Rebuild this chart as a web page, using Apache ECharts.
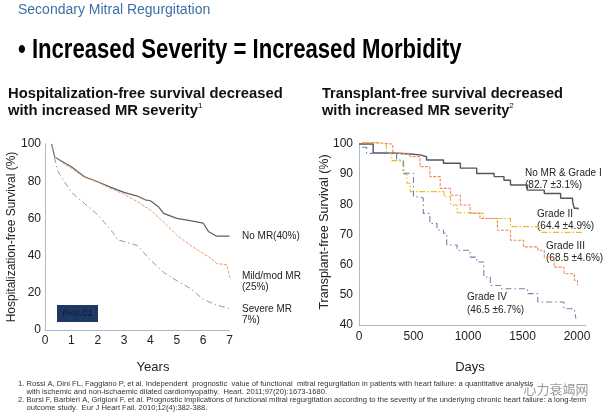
<!DOCTYPE html>
<html><head><meta charset="utf-8">
<script src="https://cdn.jsdelivr.net/npm/echarts@6/dist/echarts.min.js"></script>
<style>html,body{margin:0;padding:0;background:#fff}#c{width:613px;height:413px}</style>
</head><body><div id="c"></div>
<script>
// ---- Left chart: Hospitalization-free survival (years) ----
const leftYTicks = [0, 20, 40, 60, 80, 100];
const noMrT   = [0.25,0.37,0.6,1,1.5,2,2.5,3,3.5,3.8,4,4.3,4.5,5,5.5,6,6.2,6.5,7];
const noMrS   = [100,93,91,87.8,82.4,79.7,76.7,74,72,70,69.5,66.3,62.7,60,58.8,57.5,53,50.5,50.5];
const mildT   = [0.25,0.37,0.6,1,1.5,2,2.5,3,3.5,4,4.5,5,5.5,6,6.3,6.5,6.9,7,7.2];
const mildS   = [100,93,90.5,87,82,79.5,76,73,69,64.5,58,51,45.7,41.2,38.5,35.8,35,28.7,24.2];
const severeT = [0.25,0.37,0.5,0.7,1,1.33,1.5,2,2.3,2.6,2.75,3,3.5,4,4.5,5,5.5,6,6.5,7];
const severeS = [100,92,85,80.6,74,70,68,62,57,52,48.5,47.5,45.5,37.6,31,26.5,22.4,16.5,13.4,11.6];
const leftLabels = ["No MR(40%)", "Mild/mod MR\n(25%)", "Severe MR\n7%)"];

// ---- Right chart: Transplant-free survival (days) ----
const g1Days = [0,50,130,310,470,560,620,775,930,1080,1240,1330,1390,1545,1700,1850,1960,1975,2010];
const g1Surv = [100,100,97,96.7,96.4,95.8,94.7,93.6,92,90.2,89.2,88,86.4,84.7,83.6,82,80.9,78.7,78.3];
const g2Days = [30,160,250,300,360,410,440,470,650,780,840,900,1080,1140,1360,1390,1640,1670,2060];
const g2Surv = [100.4,100,97,94.5,94,90,87,84.2,84.2,82.5,79.8,77.2,77,75.3,75.3,72.6,72,70.7,70.7];
const g3Days = [30,160,310,470,560,650,745,840,930,1020,1110,1270,1390,1510,1640,1700,1790,1880,1975,2005];
const g3Surv = [100.4,100,96.9,95.8,92.5,89.2,85.3,83,79.8,77,75.3,71.4,68.1,65.9,64.8,62.5,59.2,57,54.8,53.1];
const g4Days = [30,70,280,345,405,470,500,560,590,650,715,775,805,900,1020,1080,1145,1205,1300,1515,1545,1640,1850,1880,1975,1990];
const g4Surv = [98.9,96.9,96.9,94.7,90.3,90.3,82.5,82,77,73.7,71.5,70.4,66.5,64.8,62.5,60.9,55.9,53.1,52,52,50.4,47.6,47.6,45.4,44.9,42.1];
const rightLabels = ["No MR & Grade I\n(82.7 ±3.1%)", "Grade II\n(64.4 ±4.9%)", "Grade III\n(68.5 ±4.6%)", "Grade IV\n(46.5 ±6.7%)"];

const zip = (a, b) => a.map((v, i) => [v, b[i]]);
const axisCol = '#a9bad2';
const tickFont = {fontFamily: 'Liberation Sans, Arial, sans-serif', fontSize: 12, color: '#222'};
const txt = (x, y, text, o) => ({type: 'text', x, y, style: Object.assign({text, fill: '#222', font: '10px "Liberation Sans", Arial, sans-serif'}, o || {})});

const chart = echarts.init(document.getElementById('c'), null, {renderer: 'canvas'});
chart.setOption({
  animation: false,
  backgroundColor: '#fff',
  grid: [
    {left: 45, top: 144, width: 184.5, height: 186},
    {left: 359, top: 144, width: 226.7, height: 181}
  ],
  xAxis: [
    {gridIndex: 0, type: 'value', min: 0, max: 7, interval: 1,
     axisLine: {show: true, lineStyle: {color: axisCol}}, axisTick: {show: false}, splitLine: {show: false},
     axisLabel: Object.assign({margin: 5}, tickFont)},
    {gridIndex: 1, type: 'value', min: 0, max: 2080, interval: 500,
     axisLine: {show: true, lineStyle: {color: axisCol}}, axisTick: {show: false}, splitLine: {show: false},
     axisLabel: Object.assign({margin: 6, showMaxLabel: false, formatter: v => (v % 500 === 0 ? String(v) : '')}, tickFont)}
  ],
  yAxis: [
    {gridIndex: 0, type: 'value', min: 0, max: 100, interval: 20,
     axisLine: {show: true, lineStyle: {color: axisCol}}, axisTick: {show: false}, splitLine: {show: false},
     axisLabel: Object.assign({margin: 4}, tickFont)},
    {gridIndex: 1, type: 'value', min: 40, max: 100, interval: 10,
     axisLine: {show: true, lineStyle: {color: axisCol}}, axisTick: {show: false}, splitLine: {show: false},
     axisLabel: Object.assign({margin: 6}, tickFont)}
  ],
  series: [
    {type: 'line', xAxisIndex: 0, yAxisIndex: 0, data: zip(noMrT, noMrS), symbol: 'none',
     lineStyle: {color: '#5b6069', width: 1.2}},
    {type: 'line', xAxisIndex: 0, yAxisIndex: 0, data: zip(mildT, mildS), symbol: 'none',
     lineStyle: {color: '#ef9a66', width: 1, type: [3, 1.5]}},
    {type: 'line', xAxisIndex: 0, yAxisIndex: 0, data: zip(severeT, severeS), symbol: 'none',
     lineStyle: {color: '#8a98c0', width: 1, type: [6, 3, 1.5, 3]}},
    {type: 'line', xAxisIndex: 1, yAxisIndex: 1, data: zip(g1Days, g1Surv), symbol: 'none', step: 'end', clip: false,
     lineStyle: {color: '#50555f', width: 1.4}},
    {type: 'line', xAxisIndex: 1, yAxisIndex: 1, data: zip(g2Days, g2Surv), symbol: 'none', step: 'end', clip: false,
     lineStyle: {color: '#e9bb2c', width: 1.1, type: [6, 2, 1.5, 2]}},
    {type: 'line', xAxisIndex: 1, yAxisIndex: 1, data: zip(g3Days, g3Surv), symbol: 'none', step: 'end', clip: false,
     lineStyle: {color: '#ee8a56', width: 1.1, type: [3, 1.5]}},
    {type: 'line', xAxisIndex: 1, yAxisIndex: 1, data: zip(g4Days, g4Surv), symbol: 'none', step: 'end', clip: false,
     lineStyle: {color: '#7181b0', width: 1.1, type: [6, 3, 1.5, 3]}}
  ],
  graphic: [
    txt(18, 3, 'Secondary Mitral Regurgitation', {fill: '#3d6fa6', font: '14px "Liberation Sans", Arial, sans-serif'}),
    {type: 'text', x: 18, y: 36, scaleX: 0.79, style: {text: '• Increased Severity = Increased Morbidity', fill: '#000',
      font: 'bold 28px "Liberation Sans", Arial, sans-serif'}},
    {type: 'text', x: 8, y: 85, style: {text: '{a|Hospitalization-free survival decreased}\n{a|with increased MR severity}{s|1}',
      rich: {a: {font: 'bold 14.8px "Liberation Sans", Arial, sans-serif', fill: '#111', lineHeight: 17},
             s: {font: '8px "Liberation Sans", Arial, sans-serif', fill: '#111', verticalAlign: 'top', lineHeight: 17, padding: [0,0,6,0]}}}},
    {type: 'text', x: 322, y: 85, style: {text: '{a|Transplant-free survival decreased}\n{a|with increased MR severity}{s|2}',
      rich: {a: {font: 'bold 14.6px "Liberation Sans", Arial, sans-serif', fill: '#111', lineHeight: 17},
             s: {font: '8px "Liberation Sans", Arial, sans-serif', fill: '#111', verticalAlign: 'top', lineHeight: 17, padding: [0,0,6,0]}}}},
    {type: 'text', x: 12, y: 237, rotation: Math.PI / 2, style: {text: 'Hospitalization-free Survival (%)', fill: '#222',
      font: '12px "Liberation Sans", Arial, sans-serif', align: 'center', verticalAlign: 'middle'}},
    {type: 'text', x: 325, y: 232, rotation: Math.PI / 2, style: {text: 'Transplant-free Survival (%)', fill: '#222',
      font: '12.5px "Liberation Sans", Arial, sans-serif', align: 'center', verticalAlign: 'middle'}},
    txt(153, 367, 'Years', {font: '13px "Liberation Sans", Arial, sans-serif', align: 'center', verticalAlign: 'middle'}),
    txt(470, 367, 'Days', {font: '13px "Liberation Sans", Arial, sans-serif', align: 'center', verticalAlign: 'middle'}),
    {type: 'rect', shape: {x: 57, y: 305, width: 41, height: 17}, style: {fill: '#1f3863'}},
    txt(77.5, 313.5, 'P<0.01', {fill: '#0b1a3c', font: 'italic 9.5px "Liberation Sans", Arial, sans-serif', align: 'center', verticalAlign: 'middle'}),
    txt(242, 230, leftLabels[0], {lineHeight: 11.5}),
    txt(242, 270, leftLabels[1], {lineHeight: 11.5}),
    txt(242, 303, leftLabels[2], {lineHeight: 11.5}),
    txt(525, 167, rightLabels[0], {lineHeight: 12}),
    txt(537, 208, rightLabels[1], {lineHeight: 12}),
    txt(546, 240, rightLabels[2], {lineHeight: 12}),
    txt(467, 291, rightLabels[3], {lineHeight: 12.5, align: 'left'}),
    txt(18, 380, '1. Rossi A, Dini FL, Faggiano P, et al. Independent  prognostic  value of functional  mitral regurgitation in patients with heart failure: a quantitative analysis\n    with ischemic and non-ischaemic dilated cardiomyopathy.  Heart. 2011;97(20):1673-1680.',
      {font: '7.6px "Liberation Sans", Arial, sans-serif', lineHeight: 8, fill: '#333'}),
    txt(18, 396, '2. Bursi F, Barbieri A, Grigioni F, et al. Prognostic implications of functional mitral regurgitation according to the severity of the underlying chronic heart failure: a long-term\n    outcome study.  Eur J Heart Fail. 2010;12(4):382-388.',
      {font: '7.6px "Liberation Sans", Arial, sans-serif', lineHeight: 8, fill: '#333'}),
    txt(556, 389, '心力衰竭网', {fill: '#9a9a9a', font: '13px "Noto Sans CJK SC", sans-serif', align: 'center', verticalAlign: 'middle'})
  ]
});
</script></body></html>
